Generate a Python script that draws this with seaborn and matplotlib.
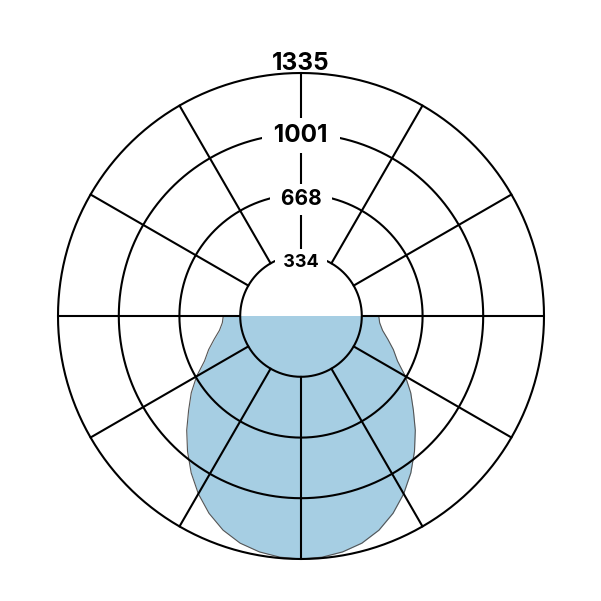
import numpy as np
import pandas as pd
import matplotlib
matplotlib.use("Agg")
import matplotlib.pyplot as plt
import seaborn as sns

# Luminous intensity (cd) by angle from nadir (degrees), symmetric C-plane
angles_deg = [0, 5, 10, 15, 20, 25, 30, 35, 40, 45, 50, 55, 60, 65, 70, 75, 80, 85, 90]
intensity = [1335, 1330, 1316, 1292, 1252, 1196, 1128, 1052, 970, 888, 806, 736, 662, 585, 540, 494, 455, 434, 427]
ring_values = [334, 668, 1001, 1335]
ring_labels = ["334", "668", "1001", "1335"]
spoke_deg = [0, 30, 60, 90, 120, 150, 180, 210, 240, 270, 300, 330]

sns.set_style("white")
plt.rcParams["font.family"] = ["Inter", "DejaVu Sans"]

# full curve from -90 to 90 degrees
ang = np.array(angles_deg, dtype=float)
val = np.array(intensity, dtype=float)
theta = np.deg2rad(np.concatenate([-ang[::-1], ang[1:]]))
rvals = np.concatenate([val[::-1], val[1:]])
df = pd.DataFrame({"theta": theta, "cd": rvals})

fig = plt.figure(figsize=(6.01, 6.01), dpi=100)
size = 486 / 601
ax = fig.add_axes([(301 - 243) / 601, (601 - 316 - 243) / 601, size, size], projection="polar")
ax.set_theta_zero_location("S")
ax.set_theta_direction(-1)
rmax = ring_values[-1]
ax.set_ylim(0, rmax)
ax.grid(False)
ax.set_xticks([])
ax.set_yticks([])
ax.spines["polar"].set_visible(False)

ax.fill_between(df["theta"], 0, df["cd"], color="#a6cee3", lw=0, zorder=1)
sns.lineplot(data=df, x="theta", y="cd", ax=ax, sort=False, color="#555555", lw=0.8, zorder=2)
ax.set_xlabel("")
ax.set_ylabel("")

circ = np.linspace(0, 2 * np.pi, 721)
for rv in ring_values:
    ax.plot(circ, np.full_like(circ, rv), color="black", lw=1.5, zorder=3, clip_on=False)
for sd in spoke_deg:
    t = np.deg2rad(sd)
    ax.plot([t, t], [ring_values[0], rmax], color="black", lw=1.5, zorder=3, clip_on=False)

label_styles = {
    "334": dict(size=13, text=" 334 ", dy=-5),
    "668": dict(size=15, text=" 668 ", dy=-3),
    "1001": dict(size=17.5, text=" 1001 ", dy=1),
    "1335": dict(size=17.5, text="1335", dy=12.5),
}
for rv, lab in zip(ring_values, ring_labels):
    st = label_styles[lab]
    kw = {}
    if lab != "1335":
        kw["bbox"] = dict(boxstyle="square,pad=0.25", fc="white", ec="none")
    ax.annotate(st["text"], xy=(np.pi, rv), xytext=(0, st["dy"] * 0.72),
                textcoords="offset points", ha="center", va="center_baseline",
                fontsize=st["size"], fontweight="bold", color="black",
                zorder=5, annotation_clip=False, **kw)

fig.savefig("out.png", dpi=100, facecolor="white")
